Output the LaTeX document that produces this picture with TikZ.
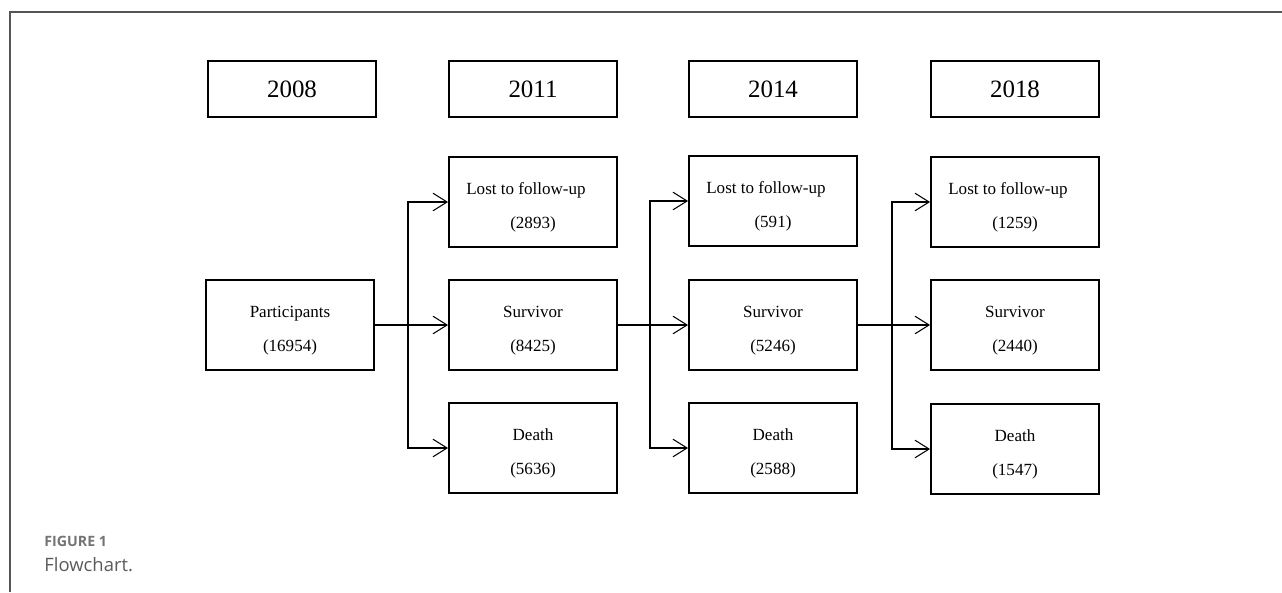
\documentclass[tikz,border=0pt]{standalone}
\usepackage{fontspec}
\setmainfont{Liberation Serif}
\newfontfamily\capfont{Open Sans}
\usetikzlibrary{arrows.meta}
\definecolor{framegray}{HTML}{555555}
\definecolor{capgray}{HTML}{747474}
\definecolor{captext}{HTML}{5A5A5A}
\newcommand\topgap{\rule{0pt}{13pt}}

\begin{document}
\begin{tikzpicture}[x=0.02cm, y=-0.02cm,
  yearbox/.style={draw, line width=1.1pt, minimum width=3.36cm, minimum height=1.12cm,
    inner sep=0pt, font=\fontsize{14.2}{16}\selectfont},
  flowbox/.style={draw, line width=1.1pt, minimum width=3.36cm, minimum height=1.8cm,
    inner sep=0pt, align=center, font=\fontsize{9.7}{19.3}\selectfont},
  link/.style={line width=0.6pt, -{Straight Barb[length=8pt,width=10pt]}}]

  \useasboundingbox (0,0) rectangle (1282,592);

  % -- Frame --
  \draw[framegray, line width=1pt] (10,592) -- (10,12) -- (1282,12);

  % -- Years --
  \node[yearbox] (y2008) at (292,89) {2008};
  \node[yearbox] (y2011) at (533,89) {2011};
  \node[yearbox] (y2014) at (773,89) {2014};
  \node[yearbox] (y2018) at (1015,89) {2018};

  % -- Baseline --
  \node[flowbox] (part) at (290,325) {\topgap Participants\\(16954)};

  % -- 2011 --
  \node[flowbox] (lost1) at (533,202) {\topgap Lost to follow-up\kern8pt\\(2893)};
  \node[flowbox] (surv1) at (533,325) {\topgap Survivor\\(8425)};
  \node[flowbox] (death1) at (533,448) {\topgap Death\\(5636)};

  % -- 2014 --
  \node[flowbox] (lost2) at (773,201) {\topgap Lost to follow-up\kern8pt\\(591)};
  \node[flowbox] (surv2) at (773,325) {\topgap Survivor\\(5246)};
  \node[flowbox] (death2) at (773,448) {\topgap Death\\(2588)};

  % -- 2018 --
  \node[flowbox] (lost3) at (1015,202) {\topgap Lost to follow-up\kern8pt\\(1259)};
  \node[flowbox] (surv3) at (1015,325) {\topgap Survivor\\(2440)};
  \node[flowbox] (death3) at (1015,449) {\topgap Death\\(1547)};

  % -- Branch points --
  \coordinate (j1) at (408,325);
  \coordinate (j2) at (650,325);
  \coordinate (j3) at (892,325);

  % -- Connectors --
  \draw[link] (part) -- (surv1);
  \draw[link] (j1) |- (lost1);
  \draw[link] (j1) |- (death1);

  \draw[link] (surv1) -- (surv2);
  \draw[link] (j2) |- (lost2);
  \draw[link] (j2) |- (death2);

  \draw[link] (surv2) -- (surv3);
  \draw[link] (j3) |- (lost3);
  \draw[link] (j3) |- (death3);

  % -- Caption --
  \node[anchor=base west, inner sep=0pt, text=capgray, font=\capfont\bfseries\fontsize{8.1}{10}\selectfont]
    (cap1) at (44,546) {FIGURE 1};
  \node[anchor=base west, inner sep=0pt, text=captext, font=\capfont\fontsize{10.5}{12}\selectfont]
    (cap2) at (44,571) {Flowchart.};

\end{tikzpicture}
\end{document}
